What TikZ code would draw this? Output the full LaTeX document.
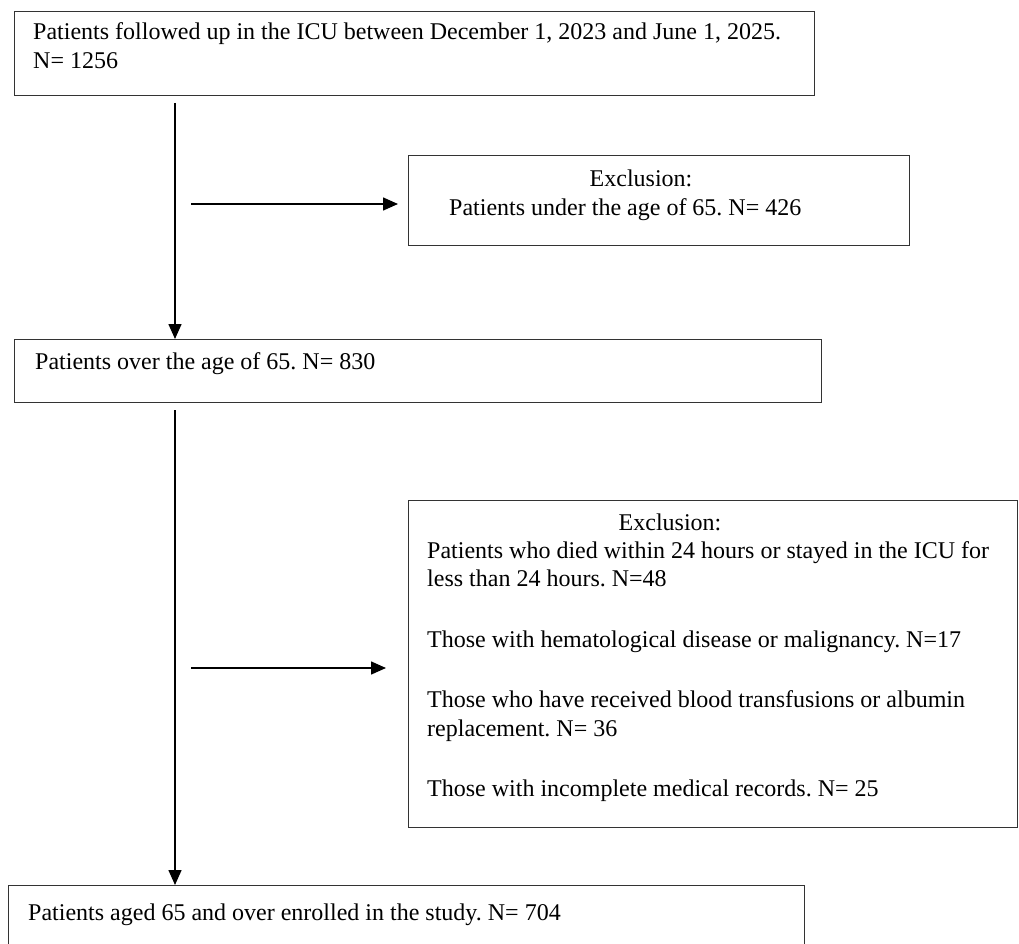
\documentclass[tikz,border=0pt]{standalone}
\usepackage{fontspec}
\setmainfont{Liberation Serif}
\usetikzlibrary{arrows.meta}
\frenchspacing
\tikzset{
  box/.style={draw=black!80, line width=1.3pt, inner sep=0pt, anchor=north west},
  txt/.style={inner sep=0pt, anchor=base west, font=\frenchspacing\fontsize{24}{28.5}\selectfont},
  ctxt/.style={inner sep=0pt, anchor=base, font=\frenchspacing\fontsize{24}{28.5}\selectfont},
  arr/.style={draw=black, line width=1.5pt, -{Triangle[length=15pt,width=13pt]}}
}
\begin{document}
\begin{tikzpicture}[x=1pt,y=-1pt]
\useasboundingbox (0,0) rectangle (1019,944);
\clip (0,0) rectangle (1019,944);
% boxes
\node[box, minimum width=800pt, minimum height=84pt] (b1) at (14,11) {};
\node[box, minimum width=501pt, minimum height=90pt] (b2) at (408,155) {};
\node[box, minimum width=807pt, minimum height=63pt] (b3) at (14,339) {};
\node[box, minimum width=609pt, minimum height=327pt] (b4) at (408,500) {};
\node[box, minimum width=796pt, minimum height=80pt] (b5) at (8,885) {};
% texts
\node[txt] (t1a) at (33,40) {Patients followed up in the ICU between December 1, 2023 and June 1, 2025.};
\node[txt] (t1b) at (33,69) {N= 1256};
\node[ctxt] (t2a) at (641,186) {Exclusion:};
\node[txt] (t2b) at (449,215) {Patients under the age of 65. N= 426};
\node[txt] (t3) at (35,369) {Patients over the age of 65. N= 830};
\node[ctxt] (t4a) at (670,530) {Exclusion:};
\node[txt] (t4b) at (427,558) {Patients who died within 24 hours or stayed in the ICU for};
\node[txt] (t4c) at (427,586) {less than 24 hours. N=48};
\node[txt] (t4d) at (427,647) {Those with hematological disease or malignancy. N=17};
\node[txt] (t4e) at (427,707) {Those who have received blood transfusions or albumin};
\node[txt] (t4f) at (427,736) {replacement. N= 36};
\node[txt] (t4g) at (427,796) {Those with incomplete medical records. N= 25};
\node[txt] (t5) at (28,920) {Patients aged 65 and over enrolled in the study. N= 704};
% arrows
\coordinate (a1s) at (175,103);
\draw[arr] (a1s) -- (a1s |- b3.north);
\coordinate (a2s) at (175,410);
\draw[arr] (a2s) -- (a2s |- b5.north);
\coordinate (h1s) at (191,204);
\draw[arr] (h1s) -- ([xshift=-10pt]b2.west |- h1s);
\coordinate (h2s) at (191,668);
\draw[arr] (h2s) -- ([xshift=-22pt]b4.west |- h2s);
\end{tikzpicture}
\end{document}
